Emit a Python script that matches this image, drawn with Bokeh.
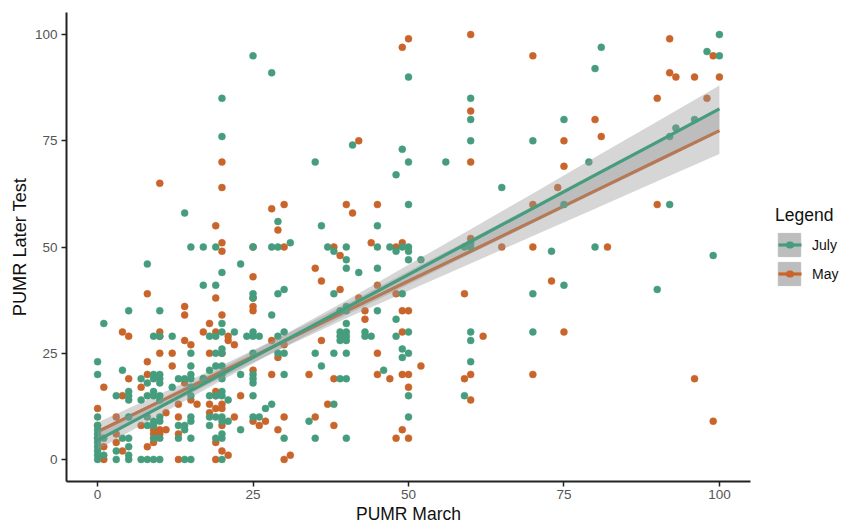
from bokeh.plotting import figure
from bokeh.models import Legend, LegendItem, Range1d, FixedTicker
from bokeh.embed import file_html
from bokeh.resources import INLINE

GREEN = "#469d7d"
ORANGE = "#c9642a"

july_xs = [0,1,3,4,5,7,8,9,10,12,13,14,15,17,18,19,20,21,22,23,24,25,26,27,28,29,30,31,34,35,36,37,38,39,40,41,42,43,44,45,46,47,48,49,50,52,56,59,60,65,70,73,75,79,80,81,90,92,93,96,98,99,100]
july_ys = [[23,20,10,8,7,6,5,4,3,2,1,0],[32,5,1],[15,2,0],[21,5],[35,16,15,14,10,5,3,1,0],[19,14,0],[46,18,15,10,8,0],
           [29,20,19,16,15,9,8,5,0],[35,29,20,19,18,15,14,10,9,5,0],[29,17],[19,8,5],[58,19,8,7,0],[50,25,22,20,19,17,15,10,9,5,0],
           [50,41,19],[29,21,15,10,8],[50,41,29,25,22,15,10,5],[85,76,44,32,30,26,25,22,20,19,16,15,10,9,6,5,0],[14,9],[30],[46,20,7],[29],
           [95,50,39,38,30,29,25,20,19,18,15,10],[29,10],[12],[91,50,34,13],[56,50,39,29,25],[40,30,25,20,5],[51],[9],[70,25,5],[55,22],[50],
           [49,39,25,13],[35,30,29,28,19],[50,47,45,36,35,32,30,29,28,25,19,5],[74],[44],[30,29],[29],[55,50,45,35],[21],[50],[67,49,33,29],
           [73,50,39,26,24],[90,70,60,50,49,47,30,25,15,10],[47],[70],[50,15],[85,80,75,51,50,30,28,23],[64],[75,39,30],[49],[80,60,41],[70],
           [92,50],[97],[40],[76,60],[78],[80],[96],[48],[100,95]]

may_xs = [0,1,3,4,5,7,8,9,10,11,12,13,14,15,16,17,18,19,20,21,22,23,25,26,27,28,29,30,31,34,35,36,37,38,39,40,41,42,43,44,45,47,48,49,50,52,59,60,62,65,70,73,74,75,80,81,82,90,92,93,96,98,99,100]
may_ys = [[12,8,5],[17,3,0],[10,6,4],[30,15,2],[29,19],[17,8],[39,23,20,3],[7,6,4],[65,30,29,25,7,6],[11,7],[25,22],[13,10,6,0],[36,34,28,18],
          [27,14],[13],[30,19],[32,25,13,11],[55,38,30,16,15,12,4,0],[70,64,51,49,34,25,13,12,8,2],[29,28,1],[27,10],[15],[50,43,38,36,35,21,9],
          [8],[9],[59,28,20],[54,24,7],[60,50,27,10,0],[1],[20],[45,10],[42,28],[13],[50,19,8],[48,40],[60],[58],[75,38],[35,33],[51],[60,41,25,20],
          [19],[50,39,5],[97,51,35,30,20,7],[99,35,20,17,5],[22],[39,19],[100,82,70,52,20,14],[29],[50],[95,60,50,20],[42],[64],[75,69,30],[80],[76],
          [50],[85,60],[99,91],[90],[90,19],[85],[95,9],[90]]

fit_x = [0,10,20,30,40,50,60,70,80,90,100]
july_fit = [4.5,12.3,20.1,27.9,35.7,43.5,51.3,59.1,66.9,74.7,82.5]
july_low = [2.3,10.5,18.65,26.45,34.0,41.2,48.4,55.6,62.7,69.85,77.0]
july_high = [6.7,14.1,21.55,29.35,37.4,45.8,54.2,62.6,71.1,79.55,88.0]
may_fit = [6.5,13.6,20.7,27.8,34.9,42.0,49.0,56.1,63.2,70.3,77.4]
may_low = [4.3,11.8,19.25,26.35,33.2,39.7,46.1,52.6,59.0,65.45,71.9]
may_high = [8.7,15.4,22.15,29.25,36.6,44.3,51.9,59.6,67.4,75.15,82.9]

def expand(xs, ys):
    px, py = [], []
    for x, col in zip(xs, ys):
        for y in col:
            px.append(x); py.append(y)
    return px, py

p = figure(output_backend="svg", toolbar_location=None,
           x_range=Range1d(-5, 105), y_range=Range1d(-5.2, 105.2),
           frame_width=684, frame_height=469,
           min_border_left=66, min_border_top=12, min_border_bottom=34, min_border_right=39,
           background_fill_color="white", border_fill_color="white", outline_line_color=None)
p.grid.visible = False

mx, my = expand(may_xs, may_ys)
jx, jy = expand(july_xs, july_ys)

nan = float("nan")
p.scatter(mx, my, size=7, marker="circle", fill_color=ORANGE, line_color=ORANGE, line_width=0.5)
p.varea(fit_x, may_low, may_high, fill_color="#999999", fill_alpha=0.4)
p.line(fit_x, may_fit, line_color=ORANGE, line_width=3.2)
p.scatter(jx, jy, size=7, marker="circle", fill_color=GREEN, line_color=GREEN, line_width=0.5)
p.varea(fit_x, july_low, july_high, fill_color="#999999", fill_alpha=0.4)
p.line(fit_x, july_fit, line_color=GREEN, line_width=3.2)

key_bg = p.quad(left=[nan], right=[nan], top=[nan], bottom=[nan], fill_color="#bdbdbd", line_color="#bdbdbd")

def key_marks(color):
    # legend-only renderers: a short rule and a dot, so the key keeps the reference's proportions
    rule = p.line([nan], [nan], line_color=color, line_width=3.2, line_dash="23 100", line_dash_offset=-3)
    dot = p.line([nan], [nan], line_color=color, line_width=7, line_dash="1 100", line_dash_offset=-14, line_cap="round")
    return [rule, dot]

for ax in (p.xaxis[0], p.yaxis[0]):
    ax.ticker = FixedTicker(ticks=[0, 25, 50, 75, 100])
    ax.minor_tick_line_color = None
    ax.major_tick_line_color = "#222222"
    ax.major_tick_line_width = 1.5
    ax.major_tick_in = 0
    ax.major_tick_out = 5
    ax.axis_line_color = "#222222"
    ax.axis_line_width = 2
    ax.major_label_text_font = "Liberation Sans"
    ax.major_label_text_font_size = "13.5px"
    ax.major_label_text_color = "#555555"
    ax.axis_label_text_font = "Liberation Sans"
    ax.axis_label_text_font_style = "normal"
    ax.axis_label_text_color = "#111111"
p.xaxis[0].axis_label = "PUMR March"
p.yaxis[0].axis_label = "PUMR Later Test"
p.xaxis[0].axis_label_text_font_size = "17.5px"
p.yaxis[0].axis_label_text_font_size = "18.2px"
p.xaxis[0].axis_label_standoff = 2
p.xaxis[0].major_label_standoff = 3
p.yaxis[0].axis_label_standoff = 2
p.yaxis[0].major_label_standoff = 4

legend = Legend(items=[LegendItem(label="July", renderers=[key_bg] + key_marks(GREEN)),
                       LegendItem(label="May", renderers=[key_bg] + key_marks(ORANGE))],
                title="Legend", title_text_font="Liberation Sans", title_text_font_size="17.5px",
                title_text_font_style="normal", title_text_color="#111111", title_standoff=4,
                label_text_font="Liberation Sans", label_text_font_size="14px", label_text_color="#111111",
                glyph_width=28, glyph_height=29, label_width=30, label_standoff=9,
                spacing=0, padding=0, margin=0, border_line_color=None, background_fill_alpha=0.0,
                location=(25, 193))
p.add_layout(legend, "right")

open("out.html", "w").write(file_html(p, INLINE))
